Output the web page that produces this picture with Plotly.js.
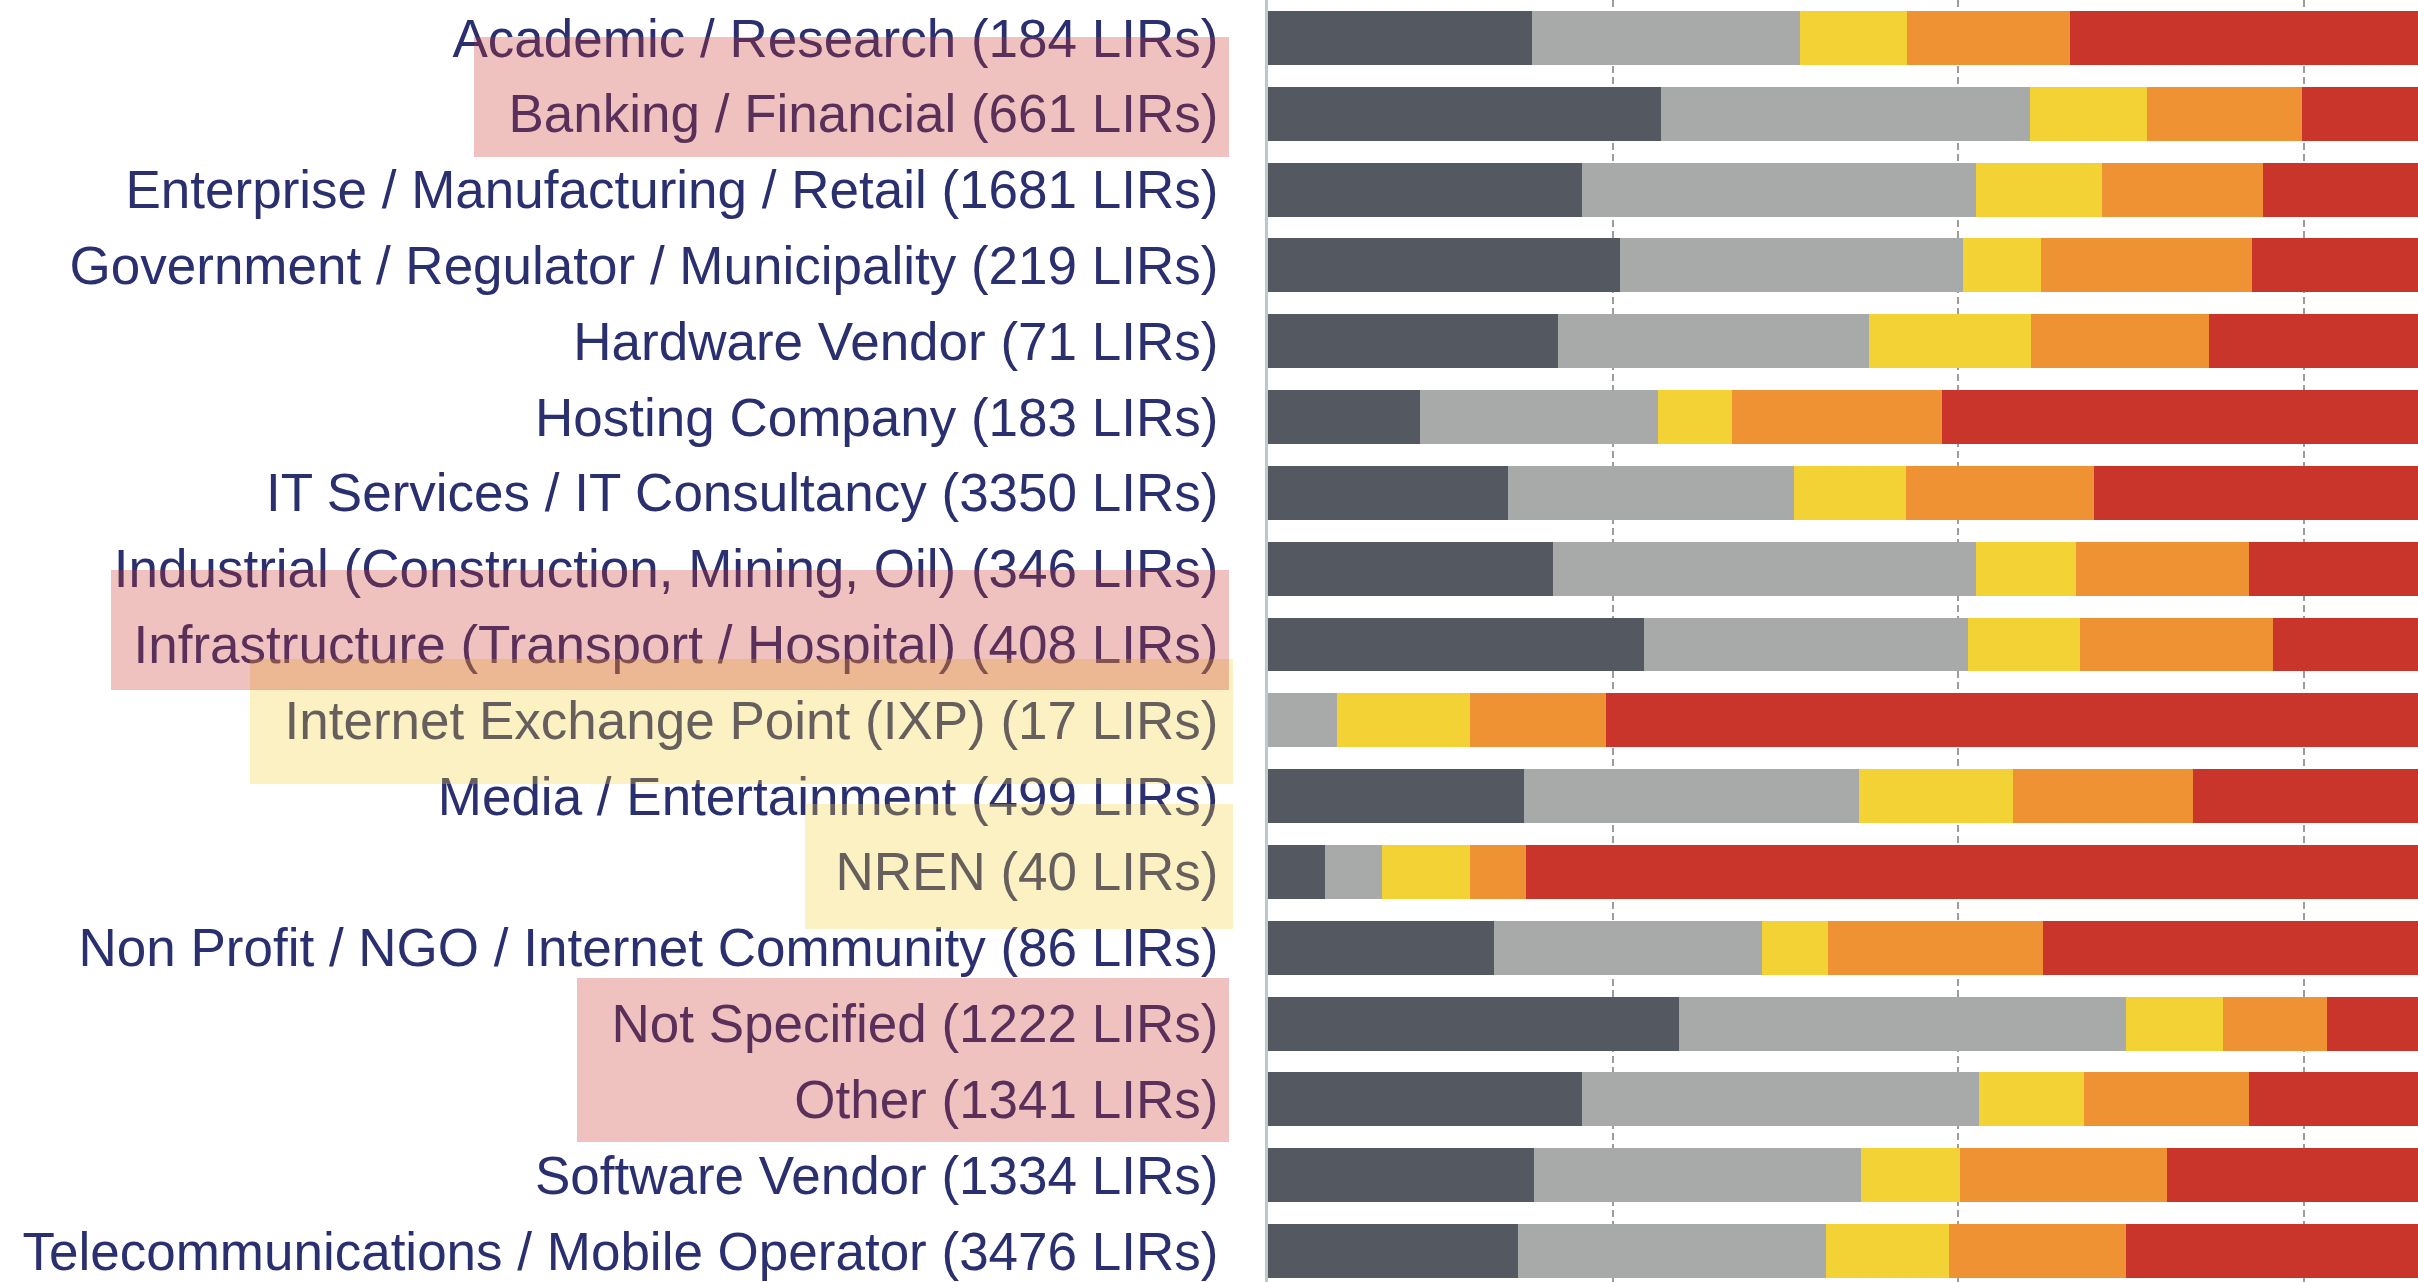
<!DOCTYPE html>
<html>
<head>
<meta charset="utf-8">
<script src="https://cdn.plot.ly/plotly-3.0.1.min.js"></script>
<style>
  html, body { margin: 0; padding: 0; background: #ffffff; overflow: hidden; }
  #chart { width: 2418px; height: 1282px; }
</style>
</head>
<body>
<div id="chart"></div>
<script>
// ---- Data (percent share of LIRs per category) ----
const categories = [
  "Academic / Research (184 LIRs)",
  "Banking / Financial (661 LIRs)",
  "Enterprise / Manufacturing / Retail (1681 LIRs)",
  "Government / Regulator / Municipality (219 LIRs)",
  "Hardware Vendor (71 LIRs)",
  "Hosting Company (183 LIRs)",
  "IT Services / IT Consultancy (3350 LIRs)",
  "Industrial (Construction, Mining, Oil) (346 LIRs)",
  "Infrastructure (Transport / Hospital) (408 LIRs)",
  "Internet Exchange Point (IXP) (17 LIRs)",
  "Media / Entertainment (499 LIRs)",
  "NREN (40 LIRs)",
  "Non Profit / NGO / Internet Community (86 LIRs)",
  "Not Specified (1222 LIRs)",
  "Other (1341 LIRs)",
  "Software Vendor (1334 LIRs)",
  "Telecommunications / Mobile Operator (3476 LIRs)"
];

const darkVals   = [15.31, 22.76, 18.20, 20.41, 16.80, 8.80, 13.90, 16.52, 21.81, 0.00, 14.86, 3.29, 13.09, 23.80, 18.20, 15.44, 14.50];
const lightVals  = [15.50, 21.41, 22.82, 19.83, 18.03, 13.78, 16.58, 24.49, 18.75, 3.97, 19.38, 3.30, 15.54, 25.93, 23.00, 18.93, 17.84];
const yellowVals = [6.19, 6.77, 7.32, 4.52, 9.35, 4.29, 6.51, 5.78, 6.51, 7.72, 8.95, 5.10, 3.84, 5.60, 6.05, 5.74, 7.09];
const orangeVals = [9.44, 8.99, 9.31, 12.24, 10.34, 12.16, 10.84, 10.03, 11.16, 7.91, 10.39, 3.26, 12.43, 6.05, 9.58, 11.97, 10.30];
const redVals    = [53.56, 40.07, 42.35, 43.00, 45.48, 60.97, 52.17, 43.18, 41.77, 80.40, 46.42, 85.05, 55.10, 38.62, 43.17, 47.92, 50.27];

const seriesNames = ["Level 1", "Level 2", "Level 3", "Level 4", "Level 5"];

// ---- Styling ----
const colors = ["#535861", "#a7aaa9", "#f2d234", "#ef9234", "#c9352b"];
const seriesVals = [darkVals, lightVals, yellowVals, orangeVals, redVals];

const W = 2418, H = 1282;
const plotLeft = 1268;

const traces = seriesVals.map((vals, i) => ({
  type: "bar",
  orientation: "h",
  name: seriesNames[i],
  y: categories,
  x: vals,
  marker: { color: colors[i], line: { width: 0 } },
  showlegend: false,
  hovertemplate: "%{y}: %{x:.1f}%<extra>" + seriesNames[i] + "</extra>"
}));

// Highlight boxes over labels (pixel coords converted to paper coords)
function pxBox(x0, x1, y0, y1, fill) {
  return {
    type: "rect", xref: "paper", yref: "paper", layer: "above",
    x0: (x0 - plotLeft) / (W - plotLeft), x1: (x1 - plotLeft) / (W - plotLeft),
    y0: 1 - y1 / H, y1: 1 - y0 / H,
    fillcolor: fill, opacity: 0.3, line: { width: 0 }
  };
}
const yellowFill = "#f2d034";
const redFill = "#c9352b";
const shapes = [
  pxBox(250, 1233, 659, 784, yellowFill),
  pxBox(805, 1233, 804, 929, yellowFill),
  pxBox(474, 1229, 37, 157, redFill),
  pxBox(111, 1229, 570, 690, redFill),
  pxBox(577, 1229, 978, 1142, redFill)
];

const layout = {
  width: W, height: H,
  margin: { l: plotLeft, r: 0, t: 0, b: 0, pad: 0 },
  paper_bgcolor: "#ffffff",
  plot_bgcolor: "#ffffff",
  barmode: "stack",
  bargap: 0.288,
  font: { family: "Liberation Sans, Arial, sans-serif", color: "#2a2f6f" },
  xaxis: {
    range: [0, 66.63],
    dtick: 20, tick0: 0,
    showticklabels: false,
    showgrid: true, gridcolor: "#9d9d9d", gridwidth: 2, griddash: "7px,4px",
    zeroline: false, showline: false, fixedrange: true
  },
  yaxis: {
    type: "category",
    range: [16.409, -0.501],
    showgrid: false, zeroline: false,
    showline: true, linecolor: "#bac9cd", linewidth: 3,
    ticks: "", ticklabelstandoff: 36,
    tickfont: { size: 53, color: "#2a2f6f", family: "Liberation Sans, Arial, sans-serif" },
    automargin: false, fixedrange: true
  },
  shapes: shapes
};

Plotly.newPlot("chart", traces, layout, { displayModeBar: false, responsive: false });
</script>
</body>
</html>
